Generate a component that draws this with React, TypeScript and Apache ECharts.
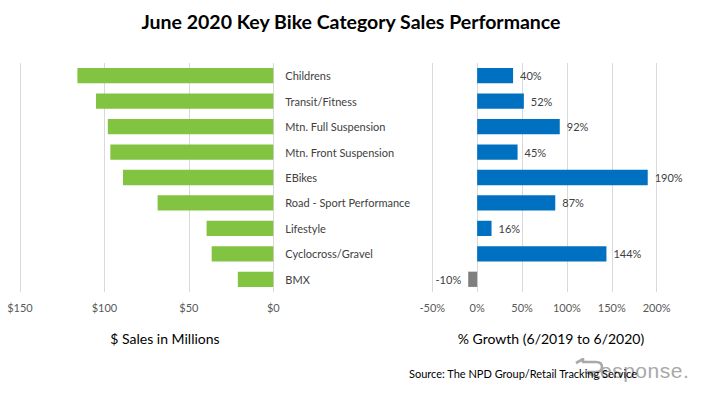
import React, { useEffect, useRef } from "react";
import * as echarts from "echarts";

const categories = [
  "Childrens",
  "Transit/Fitness",
  "Mtn. Full Suspension",
  "Mtn. Front Suspension",
  "EBikes",
  "Road - Sport Performance",
  "Lifestyle",
  "Cyclocross/Gravel",
  "BMX",
];
const salesMillions = [116, 105, 98, 96.5, 89, 68.5, 39.5, 36.5, 21];
const growthPct = [40, 52, 92, 45, 190, 87, 16, 144, -10];
const salesTicks = { min: 0, max: 150, interval: 50 };
const growthTicks = { min: -50, max: 200, interval: 50 };

const FONT = "Lato, 'Liberation Sans', sans-serif";
const GREEN = "#82C341";
const BLUE = "#0070C0";
const GRAY = "#7F7F7F";
const GRID_LINE = "#D9D9D9";
const TEXT = "#595959";

const watermarkSvg =
  '<svg xmlns="http://www.w3.org/2000/svg" width="118" height="24">' +
  '<path d="M2 5 L9 1 L9 4 L22 4 Q28 4 28 9 Q28 14 22 14 L12 14 L26 20" fill="none" stroke="#A9A9A9" stroke-width="2.6" stroke-linejoin="round"/>' +
  '<text x="26" y="20" font-family="Liberation Sans, sans-serif" font-size="21" letter-spacing="0.5" fill="#A9A9A9">esponse.</text>' +
  "</svg>";
const watermarkUri = "data:image/svg+xml;charset=utf-8," + encodeURIComponent(watermarkSvg);

export default function App() {
  const ref = useRef<HTMLDivElement>(null);
  useEffect(() => {
    if (!ref.current) return;
    const chart = echarts.init(ref.current, undefined, { renderer: "svg" });
    const top = 63;
    const bottom = 393 - 292;
    chart.setOption({
      animation: false,
      backgroundColor: "#ffffff",
      textStyle: { fontFamily: FONT },
      title: {
        text: "June 2020 Key Bike Category Sales Performance",
        left: "center",
        top: 6,
        textStyle: { fontFamily: FONT, fontWeight: "bold", fontSize: 19.5, color: "#000000" },
      },
      grid: [
        { left: 20, width: 253.3, top, bottom },
        { left: 432.3, width: 224.4, top, bottom },
      ],
      xAxis: [
        {
          gridIndex: 0,
          type: "value",
          inverse: true,
          ...salesTicks,
          axisLine: { show: false },
          axisTick: { show: false },
          splitLine: { lineStyle: { color: GRID_LINE, width: 1 } },
          axisLabel: {
            formatter: (v: number) => "$" + v,
            color: TEXT,
            fontSize: 11,
            fontFamily: FONT,
            margin: 10,
          },
        },
        {
          gridIndex: 1,
          type: "value",
          ...growthTicks,
          axisLine: { show: false },
          axisTick: { show: false },
          splitLine: { lineStyle: { color: GRID_LINE, width: 1 } },
          axisLabel: {
            formatter: (v: number) => v + "%",
            color: TEXT,
            fontSize: 11,
            fontFamily: FONT,
            margin: 10,
          },
        },
      ],
      yAxis: [
        {
          gridIndex: 0,
          type: "category",
          data: categories,
          inverse: true,
          position: "right",
          axisLine: { show: false },
          axisTick: { show: false },
          axisLabel: {
            color: "#404040",
            fontSize: 11,
            fontFamily: FONT,
            margin: 12,
            align: "left",
          },
        },
        {
          gridIndex: 1,
          type: "category",
          data: categories,
          inverse: true,
          axisLine: { show: false },
          axisTick: { show: false },
          axisLabel: { show: false },
        },
      ],
      series: [
        {
          type: "bar",
          xAxisIndex: 0,
          yAxisIndex: 0,
          data: salesMillions,
          barCategoryGap: "40%",
          itemStyle: { color: GREEN },
        },
        {
          type: "bar",
          xAxisIndex: 1,
          yAxisIndex: 1,
          barCategoryGap: "40%",
          data: growthPct.map((v) => ({
            value: v,
            itemStyle: { color: v < 0 ? GRAY : BLUE },
            label: { position: v < 0 ? "left" : "right" },
          })),
          label: {
            show: true,
            formatter: (p: any) => p.value + "%",
            color: "#404040",
            fontSize: 11,
            fontFamily: FONT,
            distance: 7,
          },
        },
      ],
      graphic: [
        {
          type: "image",
          x: 574,
          y: 358,
          z: 0,
          style: { image: watermarkUri, width: 118, height: 24 },
        },
        {
          type: "text",
          x: 165,
          y: 338,
          style: {
            text: "$ Sales in Millions",
            fill: "#000000",
            fontSize: 14,
            fontFamily: FONT,
            align: "center",
            verticalAlign: "middle",
          },
        },
        {
          type: "text",
          x: 551,
          y: 338,
          style: {
            text: "% Growth (6/2019 to 6/2020)",
            fill: "#000000",
            fontSize: 14,
            fontFamily: FONT,
            align: "center",
            verticalAlign: "middle",
          },
        },
        {
          type: "text",
          x: 409,
          y: 373,
          z: 10,
          style: {
            text: "Source: The NPD Group/Retail Tracking Service",
            fill: "#000000",
            fontSize: 11,
            fontFamily: FONT,
            align: "left",
            verticalAlign: "middle",
          },
        },
      ],
    });
    return () => chart.dispose();
  }, []);
  return (
    <div
      ref={ref}
      style={{ position: "fixed", left: 0, top: 0, width: 702, height: 393, background: "#fff" }}
    />
  );
}
